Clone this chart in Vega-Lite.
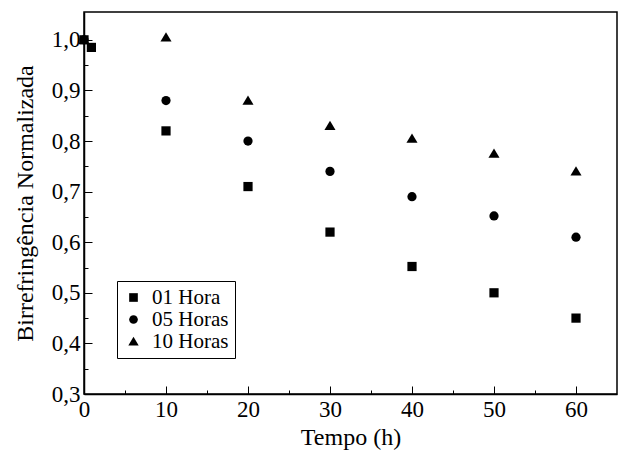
{
  "$schema": "https://vega.github.io/schema/vega-lite/v6.json",
  "autosize": {"type": "none"},
  "width": 533,
  "height": 382,
  "padding": {"left": 84, "top": 12, "right": 7, "bottom": 56},
  "background": "white",
  "config": {
    "view": {"stroke": "black", "strokeWidth": 1.5},
    "font": "Liberation Serif"
  },
  "data": {
    "values": [
      {"t": 0, "b": 1.0, "s": "01 Hora"},
      {"t": 0.9, "b": 0.985, "s": "01 Hora"},
      {"t": 10, "b": 0.82, "s": "01 Hora"},
      {"t": 20, "b": 0.71, "s": "01 Hora"},
      {"t": 30, "b": 0.62, "s": "01 Hora"},
      {"t": 40, "b": 0.552, "s": "01 Hora"},
      {"t": 50, "b": 0.50, "s": "01 Hora"},
      {"t": 60, "b": 0.45, "s": "01 Hora"},
      {"t": 0, "b": 1.0, "s": "05 Horas"},
      {"t": 10, "b": 0.88, "s": "05 Horas"},
      {"t": 20, "b": 0.80, "s": "05 Horas"},
      {"t": 30, "b": 0.74, "s": "05 Horas"},
      {"t": 40, "b": 0.69, "s": "05 Horas"},
      {"t": 50, "b": 0.652, "s": "05 Horas"},
      {"t": 60, "b": 0.61, "s": "05 Horas"},
      {"t": 0, "b": 1.0, "s": "10 Horas"},
      {"t": 10, "b": 1.005, "s": "10 Horas"},
      {"t": 20, "b": 0.88, "s": "10 Horas"},
      {"t": 30, "b": 0.83, "s": "10 Horas"},
      {"t": 40, "b": 0.805, "s": "10 Horas"},
      {"t": 50, "b": 0.775, "s": "10 Horas"},
      {"t": 60, "b": 0.74, "s": "10 Horas"}
    ]
  },
  "mark": {"type": "point", "filled": true, "opacity": 1, "size": 85},
  "encoding": {
    "x": {
      "field": "t",
      "type": "quantitative",
      "scale": {"domain": [0, 65], "nice": false, "zero": false},
      "axis": {
        "title": "Tempo (h)",
        "titleFont": "Liberation Serif",
        "titleFontSize": 24,
        "titleFontWeight": "normal",
        "titleColor": "black",
        "titlePadding": 4,
        "values": [0, 5, 10, 15, 20, 25, 30, 35, 40, 45, 50, 55, 60],
        "labelExpr": "datum.value % 10 === 0 ? datum.label : ''",
        "labelFont": "Liberation Serif",
        "labelFontSize": 23,
        "labelColor": "black",
        "labelPadding": 12,
        "labelFlush": false,
        "tickSize": {"condition": {"test": "datum.value % 10 === 0", "value": -8}, "value": -4},
        "tickColor": "black",
        "domainColor": "black",
        "domainWidth": 1.5,
        "grid": false
      }
    },
    "y": {
      "field": "b",
      "type": "quantitative",
      "scale": {"domain": [0.3, 1.055], "nice": false, "zero": false},
      "axis": {
        "title": "Birrefringência Normalizada",
        "titleFont": "Liberation Serif",
        "titleFontSize": 24,
        "titleFontWeight": "normal",
        "titleColor": "black",
        "titlePadding": 14,
        "values": [0.3, 0.35, 0.4, 0.45, 0.5, 0.55, 0.6, 0.65, 0.7, 0.75, 0.8, 0.85, 0.9, 0.95, 1.0],
        "labelExpr": "abs(datum.value * 10 - round(datum.value * 10)) < 0.01 ? replace(format(datum.value, '.1f'), '.', ',') : ''",
        "labelFont": "Liberation Serif",
        "labelFontSize": 23,
        "labelColor": "black",
        "labelPadding": 12,
        "labelFlush": false,
        "tickSize": {"condition": {"test": "abs(datum.value * 10 - round(datum.value * 10)) < 0.01", "value": -8}, "value": -4},
        "tickColor": "black",
        "domainColor": "black",
        "domainWidth": 1.5,
        "grid": false
      }
    },
    "shape": {
      "field": "s",
      "type": "nominal",
      "scale": {"domain": ["01 Hora", "05 Horas", "10 Horas"], "range": ["square", "circle", "M0,-1.1L1.2,0.9L-1.2,0.9Z"]},
      "legend": {
        "title": null,
        "orient": "none",
        "legendX": 33,
        "legendY": 269,
        "padding": 6,
        "strokeColor": "black",
        "fillColor": "white",
        "labelFont": "Liberation Serif",
        "labelFontSize": 21,
        "labelColor": "black",
        "symbolFillColor": "black",
        "symbolStrokeColor": "black",
        "symbolSize": 75,
        "rowPadding": 0,
        "labelOffset": 8
      }
    },
    "color": {"value": "black"}
  }
}
